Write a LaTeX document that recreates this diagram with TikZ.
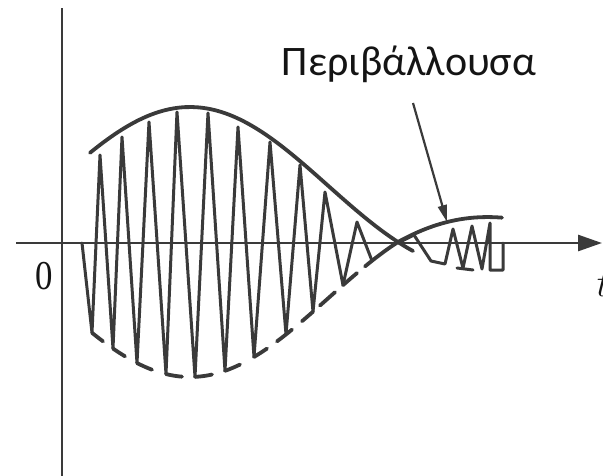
\documentclass[tikz,border=0pt]{standalone}
\usepackage{fontspec}
\newfontfamily\grfont{Carlito}
\newfontfamily\numfont{Liberation Serif}
\usetikzlibrary{arrows.meta}
\definecolor{ink}{RGB}{58,58,58}
\begin{document}
\begin{tikzpicture}[x=1pt,y=-1pt,
  declare function={
    envA(\t)=135*sin(deg(0.015104*(\t-190.01)))/(0.015104*(\t-190.01));
    envR(\t)=envA(\t)*ifthenelse(\t<398,1,0.85);
  },
  axisline/.style={draw=ink, line width=2.7pt},
  envline/.style={draw=ink, line width=3.8pt, line cap=round, line join=round},
  zigline/.style={draw=ink, line width=3.0pt, line cap=round, line join=round},
  pointer/.style={draw=ink, line width=2.2pt, -{Triangle[length=17pt,width=9pt]}},
  textlabel/.style={inner sep=0pt, text=black!92}
]
\useasboundingbox (0,0) rectangle (603,475);
\clip (0,0) rectangle (603,475);

% axes
\coordinate (ytop) at (62,8);
\coordinate (ybot) at (62,476);
\coordinate (xleft) at (16,243);
\coordinate (xright) at (602,243);
\draw[axisline] (ytop) -- (ybot);
\draw[axisline, -{Triangle[length=24pt,width=16pt]}] (xleft) -- (xright);

% upper envelope (solid)
\draw[envline] plot[domain=90:413, samples=120] (\x, {242-envA(\x)});

% lower envelope (dashed pieces), then solid through the crossing
\foreach \a/\b in {92/103, 113/125, 137/152, 166/182, 195/212, 225/240, 254/267, 277/292, 302/313, 320/335, 343/357}{
  \draw[envline] plot[domain=\a:\b, samples=8] (\x, {242+envA(\x)});
}
\draw[envline] plot[domain=365:502, samples=60] (\x, {242+envR(\x)});

% zigzag carrier
\draw[zigline] (82,243)
  -- (92,{242+envA(92)}) -- (100,155)
  -- (113,{242+envA(113)}) -- (122,137)
  -- (137,{242+envA(137)}) -- (149,122)
  -- (166,{242+envA(166)}) -- (177,112)
  -- (195,{242+envA(195)}) -- (208,113)
  -- (225,{242+envA(225)}) -- (238,127)
  -- (254,{242+envA(254)}) -- (270,142)
  -- (286,{242+envA(286)}) -- (300,165)
  -- (313,{242+envA(313)}) -- (325,192)
  -- (343,{242+envA(343)}) -- (357,222)
  -- (372,{242+envA(372)});

% right-hand small oscillations
\draw[zigline] (398,243) -- (414,235) -- (431,261) -- (445,264) -- (453,229)
  -- (463,268) -- (472,226) -- (482,269) -- (490,223) -- (490,270) -- (503,270) -- (503,243);
\draw[zigline] (457,268) -- (473,270);

% labels
\node[textlabel, anchor=base, font=\grfont\fontsize{42}{42}\selectfont] (envlabel) at (409,75) {Περιβάλλουσα};
\coordinate (ptrstart) at (413,103);
\coordinate (ptrtip) at (447,222);
\draw[pointer] (ptrstart) -- (ptrtip);
\node[textlabel, font=\numfont\fontsize{41}{41}\selectfont] (zero) at (44.5,276) {\scalebox{0.85}[1]{0}};
\node[textlabel, anchor=west, font=\itshape\fontsize{40}{40}\selectfont] (tlabel) at (594,284) {t};
\end{tikzpicture}
\end{document}
